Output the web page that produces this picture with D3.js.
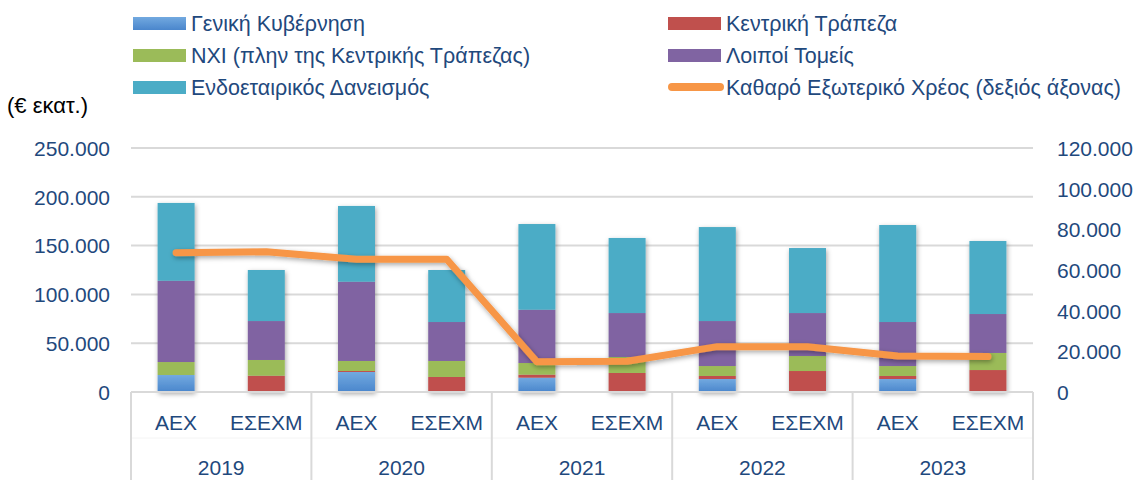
<!DOCTYPE html>
<html>
<head>
<meta charset="utf-8">
<script src="https://cdn.jsdelivr.net/npm/d3@7"></script>
<style>
  body { margin: 0; background: #fff; }
  svg { font-family: "Liberation Sans", Arial, sans-serif; }
  .tick text { fill: #1F497D; font-size: 21px; }
  .lbl { fill: #1F497D; }
</style>
</head>
<body>
<script>
// data (€ million)
var years = ["2019", "2020", "2021", "2022", "2023"];
var kinds = ["ΑΕΧ", "ΕΣΕΧΜ"];
var generalGov   = [17400, 0,     20500, 0,     14700, 0,     13300, 0,     13300, 0];
var centralBank  = [0,     16700, 1000,  15400, 3100,  19500, 3100,  21500, 3100,  22500];
var mfi          = [13300, 16100, 10300, 16400, 11900, 16400, 10200, 15400, 10200, 17500];
var otherSectors = [83300, 39900, 81200, 39900, 54600, 45000, 46100, 44000, 45100, 39900];
var intercompany = [79700, 52300, 77600, 53300, 87800, 76900, 96300, 66600, 99400, 74800];
var netExtDebt   = [68500, 69000, 65300, 65300, 14900, 15100, 22300, 22300, 17700, 17400];
var leftTicks = [0, 50000, 100000, 150000, 200000, 250000];
var rightTicks = [0, 20000, 40000, 60000, 80000, 100000, 120000];

var seriesNames = ["Γενική Κυβέρνηση", "Κεντρική Τράπεζα", "ΝΧΙ (πλην της Κεντρικής Τράπεζας)",
                   "Λοιποί Τομείς", "Ενδοεταιρικός Δανεισμός"];
var keys = ["gg", "cb", "mfi", "oth", "ic"];
var colors = ["url(#blueGrad)", "#C0504D", "#9BBB59", "#8064A2", "#4BACC6"];
var lineName = "Καθαρό Εξωτερικό Χρέος (δεξιός άξονας)";

var rows = [];
years.forEach(function(yr, i) {
  kinds.forEach(function(k, j) {
    var n = i * 2 + j;
    rows.push({id: yr + "-" + k, year: yr, kind: k,
      gg: generalGov[n], cb: centralBank[n], mfi: mfi[n], oth: otherSectors[n], ic: intercompany[n],
      debt: netExtDebt[n]});
  });
});

var W = 1137, H = 480;
var pL = 131, pR = 1033, pT = 148, pB = 392;

var svg = d3.select("body").append("svg").attr("width", W).attr("height", H);
var defs = svg.append("defs");
var g1 = defs.append("linearGradient").attr("id", "blueGrad").attr("x1", 0).attr("y1", 0).attr("x2", 0).attr("y2", 1);
g1.append("stop").attr("offset", "0%").attr("stop-color", "#72A9E0");
g1.append("stop").attr("offset", "100%").attr("stop-color", "#4A86CC");
var f = defs.append("filter").attr("id", "shadow").attr("x", "-30%").attr("y", "-10%").attr("width", "160%").attr("height", "130%");
f.append("feDropShadow").attr("dx", 1).attr("dy", 2).attr("stdDeviation", 2.5).attr("flood-color", "#000").attr("flood-opacity", 0.35);

var x = d3.scaleBand().domain(rows.map(function(d) { return d.id; })).range([pL, pR]).paddingInner(0.59).paddingOuter(0.295);
var y = d3.scaleLinear().domain([0, 250000]).range([pB, pT]);
var yR = d3.scaleLinear().domain([0, 120000]).range([pB, pT]);

var loc = d3.formatLocale({decimal: ",", thousands: ".", grouping: [3], currency: ["€", ""]});
var fmt = loc.format(",");

// gridlines
svg.append("g").selectAll("line").data(leftTicks.slice(1)).join("line")
  .attr("x1", pL).attr("x2", pR)
  .attr("y1", function(d) { return y(d); }).attr("y2", function(d) { return y(d); })
  .attr("stroke", "#D9D9D9").attr("stroke-width", 2);

// axes
var ax = svg.append("g").attr("transform", "translate(110,0)")
  .call(d3.axisLeft(y).tickValues(leftTicks).tickFormat(fmt).tickSize(0).tickPadding(0));
ax.select(".domain").remove();
ax.selectAll("text").attr("dy", "0.35em");

var axR = svg.append("g").attr("transform", "translate(1057,0)")
  .call(d3.axisRight(yR).tickValues(rightTicks).tickFormat(fmt).tickSize(0).tickPadding(0));
axR.select(".domain").remove();
axR.selectAll("text").attr("dy", "0.35em");

// stacked bars
var stack = d3.stack().keys(keys)(rows);
svg.append("g").attr("filter", "url(#shadow)")
  .selectAll("g").data(stack).join("g")
  .attr("fill", function(d, i) { return colors[i]; })
  .selectAll("rect").data(function(d) { return d; }).join("rect")
  .attr("x", function(d) { return x(d.data.id); })
  .attr("width", x.bandwidth())
  .attr("y", function(d) { return y(d[1]); })
  .attr("height", function(d) { return Math.max(0, y(d[0]) - y(d[1])); });

// category axis
var catAxis = svg.append("g");
catAxis.append("line").attr("x1", pL).attr("x2", pR).attr("y1", pB).attr("y2", pB)
  .attr("stroke", "#D9D9D9").attr("stroke-width", 2);
catAxis.append("line").attr("x1", pL).attr("x2", pR).attr("y1", 438).attr("y2", 438)
  .attr("stroke", "#F4F4F4").attr("stroke-width", 1);
var yearW = (pR - pL) / years.length;
catAxis.selectAll(".sep").data(d3.range(years.length + 1)).join("line")
  .attr("x1", function(i) { return pL + i * yearW; }).attr("x2", function(i) { return pL + i * yearW; })
  .attr("y1", pB).attr("y2", H)
  .attr("stroke", "#D9D9D9").attr("stroke-width", 2);
catAxis.selectAll(".kind").data(rows).join("text").attr("class", "lbl")
  .attr("x", function(d) { return x(d.id) + x.bandwidth() / 2; })
  .attr("y", 423).attr("dy", "0.35em").attr("text-anchor", "middle").attr("font-size", 21)
  .text(function(d) { return d.kind; });
catAxis.selectAll(".yr").data(years).join("text").attr("class", "lbl")
  .attr("x", function(d, i) { return pL + (i + 0.5) * yearW; })
  .attr("y", 468).attr("dy", "0.35em").attr("text-anchor", "middle").attr("font-size", 21)
  .text(function(d) { return d; });

// line on right axis
var line = d3.line()
  .x(function(d) { return x(d.id) + x.bandwidth() / 2; })
  .y(function(d) { return yR(d.debt); });
svg.append("path").datum(rows)
  .attr("d", line).attr("fill", "none").attr("stroke", "#F79646").attr("stroke-width", 7)
  .attr("stroke-linejoin", "round").attr("stroke-linecap", "round")
  .attr("filter", "url(#shadow)");

// legend
var leg = svg.append("g");
var legItems = [
  {name: seriesNames[0], color: colors[0], col: 0, row: 0},
  {name: seriesNames[1], color: colors[1], col: 1, row: 0},
  {name: seriesNames[2], color: colors[2], col: 0, row: 1},
  {name: seriesNames[3], color: colors[3], col: 1, row: 1},
  {name: seriesNames[4], color: colors[4], col: 0, row: 2},
  {name: lineName, color: "#F79646", col: 1, row: 2, line: true}
];
var colX = [133, 668], rowY = [23, 55, 87];
legItems.forEach(function(d) {
  var gx = colX[d.col], gy = rowY[d.row];
  if (d.line) {
    leg.append("line").attr("x1", gx + 4).attr("x2", gx + 52).attr("y1", gy).attr("y2", gy)
      .attr("stroke", d.color).attr("stroke-width", 8).attr("stroke-linecap", "round");
  } else {
    leg.append("rect").attr("x", gx).attr("y", gy - 6).attr("width", 53).attr("height", 13).attr("fill", d.color);
  }
  leg.append("text").attr("class", "lbl").attr("x", gx + 58).attr("y", gy).attr("dy", "0.35em")
    .attr("font-size", 21.5).text(d.name);
});

svg.append("text").attr("x", 7).attr("y", 105).attr("dy", "0.35em").attr("font-size", 22)
  .attr("fill", "#000").text("(€ εκατ.)");
</script>
</body>
</html>
